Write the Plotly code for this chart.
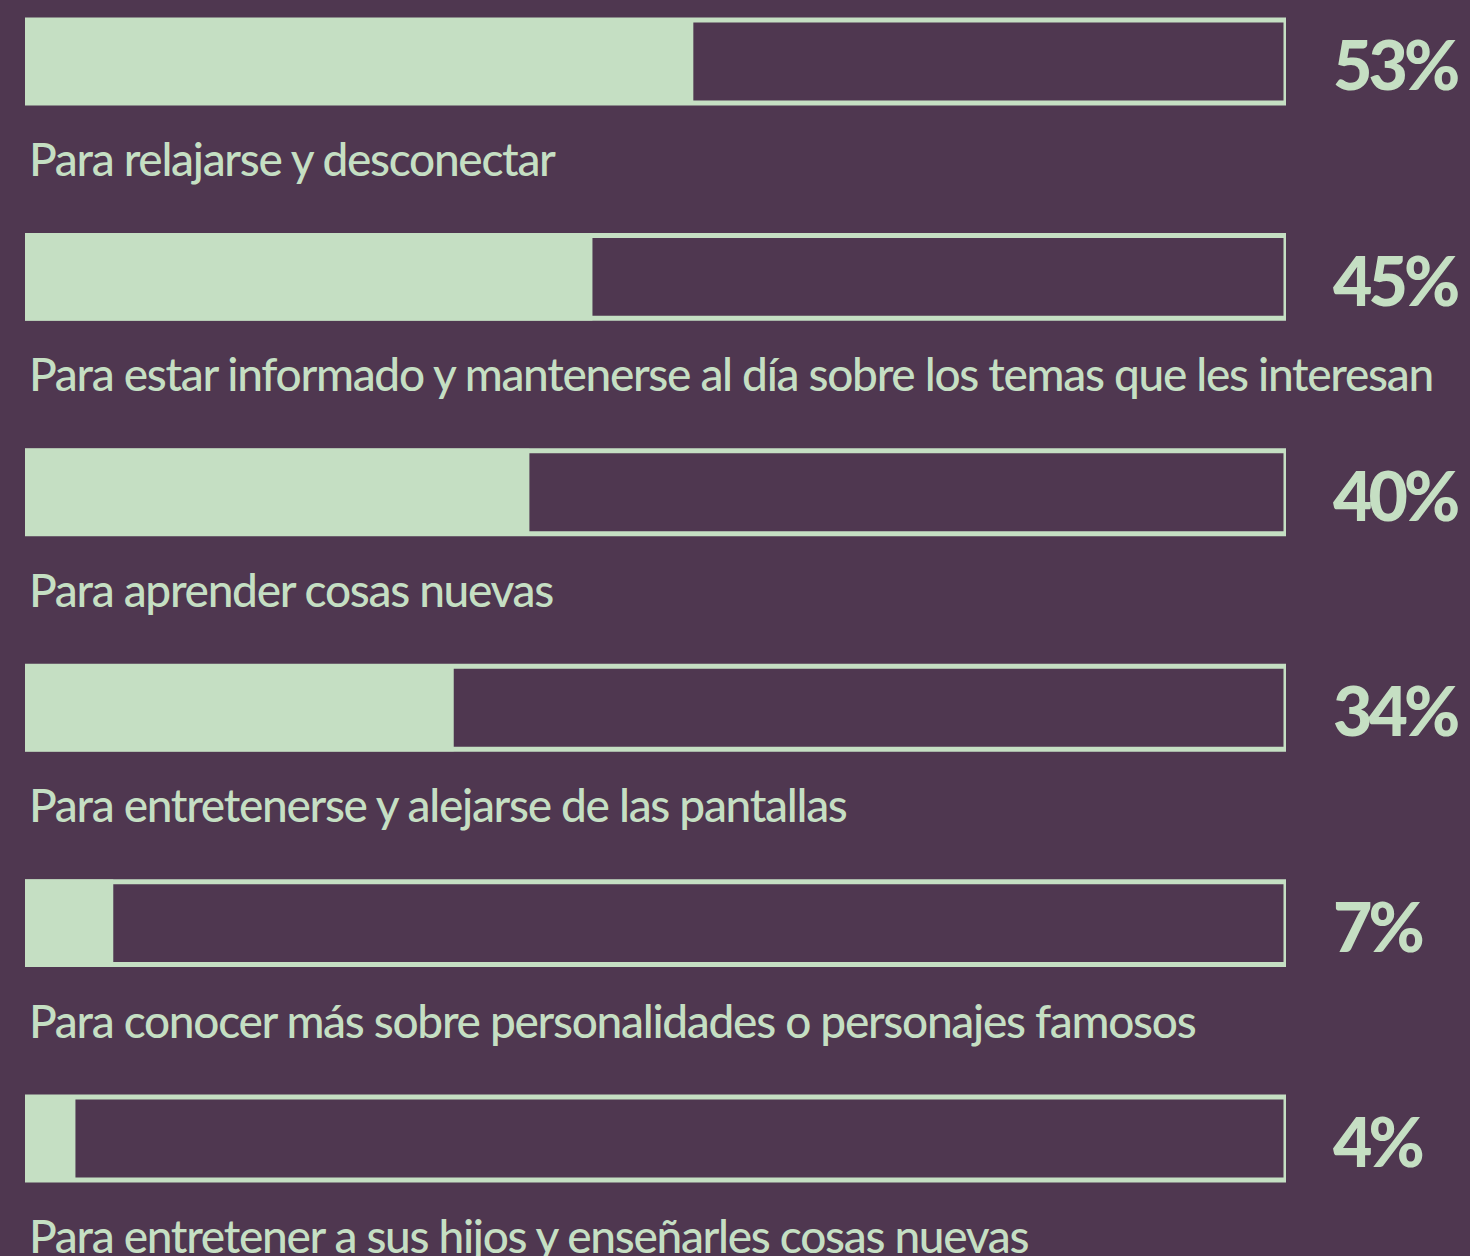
import plotly.graph_objects as go

categories = [
    "Para relajarse y desconectar",
    "Para estar informado y mantenerse al día sobre los temas que les interesan",
    "Para aprender cosas nuevas",
    "Para entretenerse y alejarse de las pantallas",
    "Para conocer más sobre personalidades o personajes famosos",
    "Para entretener a sus hijos y enseñarles cosas nuevas",
]
values = [53, 45, 40, 34, 7, 4]
value_labels = ["53%", "45%", "40%", "34%", "7%", "4%"]

BG = "#4F3750"
GREEN = "#C5DFC3"
W, H = 1470, 1256

idx = list(range(len(categories)))
px_per_unit = 215.4
top_px = 61.5
y_top = -top_px / px_per_unit
y_bot = (H - top_px) / px_per_unit

fig = go.Figure()
# outline (100%) frames
fig.add_trace(go.Bar(
    x=[100] * len(idx), y=idx, orientation="h", width=0.385,
    marker=dict(color="rgba(0,0,0,0)", line=dict(color=GREEN, width=5)),
    hoverinfo="skip", showlegend=False,
))
# filled values
fig.add_trace(go.Bar(
    x=values, y=idx, orientation="h", width=0.405,
    marker=dict(color=GREEN, line=dict(width=0)),
    hovertemplate="%{x}%<extra></extra>", showlegend=False,
))

annotations = []
for i, (cat, lab) in enumerate(zip(categories, value_labels)):
    annotations.append(dict(
        x=0, y=i + 0.45, xref="x", yref="y", text=cat, showarrow=False,
        xanchor="left", yanchor="middle", align="left", xshift=2,
        font=dict(family="Lato, sans-serif", size=46, color=GREEN, weight=500),
    ))
    annotations.append(dict(
        x=1331 / W, y=i + 0.01, xref="paper", yref="y", text=lab,
        showarrow=False, xanchor="left", yanchor="middle", align="left",
        font=dict(family="Lato, sans-serif", size=68, color=GREEN, weight=900),
    ))

fig.update_layout(
    width=W, height=H,
    margin=dict(l=0, r=0, t=0, b=0),
    paper_bgcolor=BG, plot_bgcolor=BG,
    barmode="overlay",
    xaxis=dict(domain=[25 / W, 1286 / W], range=[0, 100], visible=False, fixedrange=True),
    yaxis=dict(range=[y_bot, y_top], visible=False, fixedrange=True),
    annotations=annotations,
    showlegend=False,
)

post = """
document.body.style.margin='0';
document.body.style.background='%s';
var st=document.createElement('style');
st.textContent='.annotation-text{letter-spacing:-1.3px;} .annotation-text[style*="68px"]{letter-spacing:-4px;}';
document.head.appendChild(st);
""" % BG

fig.write_html("out.html", post_script=post, config={"displayModeBar": False})
